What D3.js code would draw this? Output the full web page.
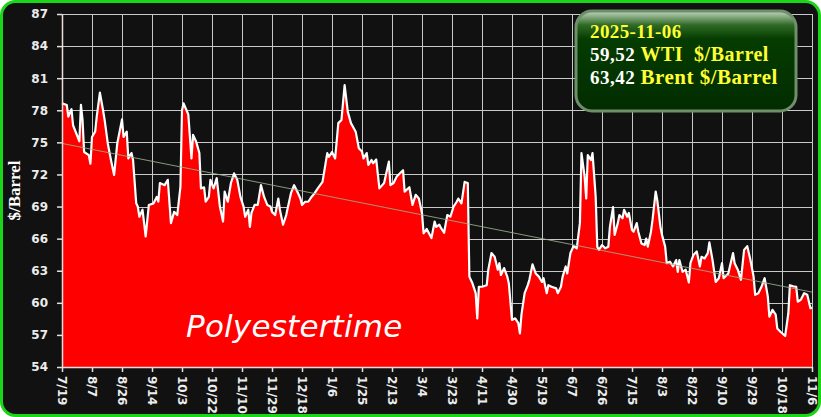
<!DOCTYPE html>
<html lang="en">
<head>
<meta charset="utf-8">
<title>WTI $/Barrel</title>
<script src="https://cdn.jsdelivr.net/npm/d3@7"></script>
<style>
  body { margin: 0; background: #fff; }
  svg { display: block; }
</style>
</head>
<body>
<script>
// WTI closing price
var dates = [
  "2024-07-19","2024-07-22","2024-07-23","2024-07-25","2024-07-26","2024-07-28","2024-07-30","2024-07-31",
  "2024-08-01","2024-08-02","2024-08-05","2024-08-06","2024-08-07","2024-08-09","2024-08-10","2024-08-12",
  "2024-08-14","2024-08-15","2024-08-17","2024-08-19","2024-08-21","2024-08-23","2024-08-26","2024-08-27",
  "2024-08-29","2024-08-30","2024-09-01","2024-09-02","2024-09-04","2024-09-05","2024-09-06","2024-09-08",
  "2024-09-10","2024-09-12","2024-09-15","2024-09-17","2024-09-18","2024-09-19","2024-09-22","2024-09-24",
  "2024-09-26","2024-09-28","2024-09-30","2024-10-02","2024-10-03","2024-10-04","2024-10-07","2024-10-09",
  "2024-10-10","2024-10-12","2024-10-14","2024-10-15","2024-10-17","2024-10-18","2024-10-20","2024-10-21",
  "2024-10-23","2024-10-25","2024-10-27","2024-10-29","2024-10-30","2024-11-01","2024-11-03","2024-11-05",
  "2024-11-07","2024-11-09","2024-11-11","2024-11-12","2024-11-14","2024-11-15","2024-11-16","2024-11-18",
  "2024-11-20","2024-11-22","2024-11-24","2024-11-26","2024-11-28","2024-11-29","2024-12-01","2024-12-03",
  "2024-12-04","2024-12-06","2024-12-08","2024-12-11","2024-12-13","2024-12-15","2024-12-17","2024-12-18",
  "2024-12-20","2024-12-22","2024-12-24","2024-12-26","2024-12-28","2024-12-31","2025-01-03","2025-01-04",
  "2025-01-06","2025-01-08","2025-01-10","2025-01-12","2025-01-14","2025-01-16","2025-01-18","2025-01-21",
  "2025-01-23","2025-01-25","2025-01-26","2025-01-28","2025-01-29","2025-01-31","2025-02-01","2025-02-03",
  "2025-02-05","2025-02-08","2025-02-11","2025-02-12","2025-02-14","2025-02-16","2025-02-20","2025-02-21",
  "2025-02-24","2025-02-26","2025-02-28","2025-03-02","2025-03-04","2025-03-05","2025-03-07","2025-03-10",
  "2025-03-12","2025-03-13","2025-03-15","2025-03-16","2025-03-18","2025-03-20","2025-03-22","2025-03-24",
  "2025-03-26","2025-03-27","2025-03-29","2025-03-31","2025-04-02","2025-04-03","2025-04-05","2025-04-07",
  "2025-04-08","2025-04-09","2025-04-11","2025-04-14","2025-04-15","2025-04-17","2025-04-19","2025-04-21",
  "2025-04-22","2025-04-23","2025-04-25","2025-04-27","2025-04-28","2025-04-30","2025-05-02","2025-05-04",
  "2025-05-05","2025-05-06","2025-05-08","2025-05-10","2025-05-11","2025-05-13","2025-05-15","2025-05-17",
  "2025-05-19","2025-05-20","2025-05-22","2025-05-23","2025-05-25","2025-05-28","2025-05-29","2025-05-31",
  "2025-06-01","2025-06-03","2025-06-04","2025-06-06","2025-06-08","2025-06-10","2025-06-12","2025-06-13",
  "2025-06-15","2025-06-16","2025-06-17","2025-06-19","2025-06-20","2025-06-22","2025-06-23","2025-06-24",
  "2025-06-26","2025-06-28","2025-06-30","2025-07-01","2025-07-03","2025-07-04","2025-07-06","2025-07-07",
  "2025-07-09","2025-07-10","2025-07-12","2025-07-13","2025-07-15","2025-07-16","2025-07-18","2025-07-19",
  "2025-07-21","2025-07-23","2025-07-24","2025-07-25","2025-07-27","2025-07-28","2025-07-30","2025-07-31",
  "2025-08-02","2025-08-03","2025-08-05","2025-08-06","2025-08-08","2025-08-10","2025-08-12","2025-08-13",
  "2025-08-14","2025-08-16","2025-08-18","2025-08-20","2025-08-21","2025-08-23","2025-08-25","2025-08-27",
  "2025-08-28","2025-08-30","2025-09-01","2025-09-02","2025-09-04","2025-09-06","2025-09-08","2025-09-10",
  "2025-09-11","2025-09-14","2025-09-15","2025-09-17","2025-09-18","2025-09-20","2025-09-22","2025-09-24",
  "2025-09-26","2025-09-28","2025-09-30","2025-10-01","2025-10-03","2025-10-05","2025-10-07","2025-10-09",
  "2025-10-10","2025-10-12","2025-10-14","2025-10-15","2025-10-17","2025-10-20","2025-10-22","2025-10-23",
  "2025-10-25","2025-10-27","2025-10-28","2025-10-30","2025-11-01","2025-11-03","2025-11-05","2025-11-06"
];
var prices = [
  78.65,78.5,77.4,78.1,76.6,75.85,75.1,78.5,
  77.1,74.1,73.8,73.0,75.5,76.0,77.4,79.65,
  78.0,77.1,74.9,73.35,71.95,74.9,77.15,75.5,
  76.0,73.5,74.0,73.35,69.3,69.0,68.05,68.7,
  66.2,69.15,69.3,69.9,69.45,71.2,71.0,71.5,
  67.45,68.5,68.2,70.85,78.0,78.65,77.6,73.5,
  75.7,75.05,74.0,70.7,70.8,69.45,69.9,71.5,
  70.7,71.65,69.0,67.6,70.4,69.45,71.2,72.1,
  71.5,69.9,69.0,68.05,68.7,67.1,68.4,69.15,
  69.15,71.0,69.9,69.15,69.0,68.5,68.2,69.75,
  68.7,67.3,68.2,70.25,71.0,70.4,69.75,69.15,
  69.45,69.45,69.9,70.25,70.7,71.3,74.0,73.65,
  74.1,73.5,76.8,77.1,80.35,77.85,76.8,76.0,
  74.45,74.15,73.5,74.0,72.9,73.35,73.05,73.4,
  70.7,71.2,73.2,71.0,71.2,71.8,72.4,70.4,
  70.8,69.15,70.1,69.75,68.4,66.5,66.9,66.05,
  67.6,67.1,67.3,67.0,66.55,68.2,68.05,69.0,
  69.45,69.75,69.3,71.3,71.2,62.45,61.8,60.9,
  58.55,61.5,61.5,61.65,63.1,64.65,64.3,63.1,
  63.7,62.6,63.25,62.45,61.8,58.4,58.55,58.1,
  57.15,58.9,60.9,61.65,62.15,63.6,62.75,62.45,
  61.95,62.3,60.9,61.65,61.5,61.35,60.9,61.5,
  62.4,63.4,62.75,64.65,65.3,65.1,67.45,74.0,
  71.8,69.75,73.8,73.35,74.0,69.9,65.25,64.95,
  65.4,65.1,65.25,67.1,68.95,66.35,67.45,68.2,
  67.9,68.7,68.05,68.4,66.8,66.65,67.45,66.65,
  65.55,65.4,66.0,65.25,66.65,67.75,70.4,69.6,
  67.1,66.35,65.25,63.7,63.85,63.4,64.0,62.9,
  64.0,62.9,63.1,61.9,63.7,64.5,64.8,63.4,
  64.3,64.15,64.65,65.65,64.0,61.95,62.3,63.7,
  62.3,62.75,63.4,64.65,63.7,63.1,62.15,64.95,
  65.3,64.0,62.45,60.75,60.9,61.5,62.3,60.6,
  58.7,59.35,58.9,57.6,57.3,56.9,59.0,61.65,
  61.55,61.5,60.1,60.3,60.9,60.75,59.5,59.52
];

// trend line, start and end value
var trendValues = [74.9, 61.0];

var yTicks = [54, 57, 60, 63, 66, 69, 72, 75, 78, 81, 84, 87];
var xTicks = [
  "2024-07-19","2024-08-07","2024-08-26","2024-09-14","2024-10-03","2024-10-22","2024-11-10",
  "2024-11-29","2024-12-18","2025-01-06","2025-01-25","2025-02-13","2025-03-04","2025-03-23",
  "2025-04-11","2025-04-30","2025-05-19","2025-06-07","2025-06-26","2025-07-15","2025-08-03",
  "2025-08-22","2025-09-10","2025-09-29","2025-10-18","2025-11-06"
];

var infoDate = "2025-11-06";
var wtiLast = "59,52";
var brentLast = "63,42";

var W = 821, H = 417;
var margin = {left: 62, right: 9, top: 14, bottom: 50};

var parse = d3.utcParse("%Y-%m-%d");
var data = dates.map(function(d, i) { return {date: parse(d), value: prices[i]}; });

var svg = d3.select("body").append("svg")
  .attr("width", W)
  .attr("height", H);

var defs = svg.append("defs");
var boxGrad = defs.append("linearGradient")
  .attr("id", "boxGrad").attr("x1", 0).attr("y1", 0).attr("x2", 0).attr("y2", 1);
boxGrad.append("stop").attr("offset", "0%").attr("stop-color", "#c4d8c0");
boxGrad.append("stop").attr("offset", "14%").attr("stop-color", "#2f6a26");
boxGrad.append("stop").attr("offset", "28%").attr("stop-color", "#053c00");
boxGrad.append("stop").attr("offset", "100%").attr("stop-color", "#022c00");

// frame
svg.append("rect")
  .attr("x", 1.5).attr("y", 1.5)
  .attr("width", W - 3).attr("height", H - 3)
  .attr("rx", 14)
  .attr("fill", "#111111")
  .attr("stroke", "#19d619")
  .attr("stroke-width", 3);

var x = d3.scaleUtc()
  .domain([parse(xTicks[0]), parse(xTicks[xTicks.length - 1])])
  .range([margin.left, W - margin.right]);

var y = d3.scaleLinear()
  .domain([54, 87])
  .range([H - margin.bottom, margin.top]);

// grid
var grid = svg.append("g").attr("stroke", "#c8c8c8").attr("stroke-width", 1);
grid.selectAll(".hg").data(yTicks).enter().append("line")
  .attr("x1", margin.left).attr("x2", W - margin.right)
  .attr("y1", function(d) { return Math.round(y(d)) + 0.5; })
  .attr("y2", function(d) { return Math.round(y(d)) + 0.5; });
grid.selectAll(".vg").data(xTicks).enter().append("line")
  .attr("y1", margin.top).attr("y2", H - margin.bottom)
  .attr("x1", function(d) { return Math.round(x(parse(d))) + 0.5; })
  .attr("x2", function(d) { return Math.round(x(parse(d))) + 0.5; });

var area = d3.area()
  .x(function(d) { return x(d.date); })
  .y0(y(54))
  .y1(function(d) { return y(d.value); });

var line = d3.line()
  .x(function(d) { return x(d.date); })
  .y(function(d) { return y(d.value); });

svg.append("path").datum(data)
  .attr("d", area)
  .attr("fill", "#ff0000");

svg.append("path").datum(data)
  .attr("d", line)
  .attr("fill", "none")
  .attr("stroke", "#ffffff")
  .attr("stroke-width", 2.2)
  .attr("stroke-linejoin", "round");

// trend
svg.append("line")
  .attr("x1", x(data[0].date)).attr("y1", y(trendValues[0]))
  .attr("x2", x(data[data.length - 1].date)).attr("y2", y(trendValues[1]))
  .attr("stroke", "#9bb08e")
  .attr("stroke-opacity", 0.85)
  .attr("stroke-width", 1);

// axes
var yAxis = svg.append("g")
  .attr("transform", "translate(" + margin.left + ",0)")
  .call(d3.axisLeft(y).tickValues(yTicks).tickSize(5).tickSizeOuter(0).tickPadding(9));

var xAxis = svg.append("g")
  .attr("transform", "translate(0," + (H - margin.bottom) + ")")
  .call(d3.axisBottom(x)
    .tickValues(xTicks.map(parse))
    .tickSize(5).tickSizeOuter(0)
    .tickFormat(d3.utcFormat("%-m/%-d")));

[yAxis, xAxis].forEach(function(g) {
  g.select(".domain").attr("stroke", "#f0dede").attr("stroke-width", 1.5);
  g.selectAll(".tick line").attr("stroke", "#e0e0e0").attr("stroke-width", 1.5);
  g.selectAll("text")
    .attr("fill", "#ececec")
    .style("font-family", "'DejaVu Sans', sans-serif")
    .style("font-weight", "bold")
    .style("font-size", "12px");
});

xAxis.selectAll("text")
  .attr("transform", "rotate(90)")
  .attr("x", 9).attr("y", 0)
  .attr("dy", "0.35em")
  .attr("text-anchor", "start");

// y label
svg.append("text")
  .attr("transform", "translate(14," + y(70.5) + ") rotate(-90)")
  .attr("text-anchor", "middle")
  .attr("dy", "0.35em")
  .attr("fill", "#ffffff")
  .style("font-family", "'Liberation Serif', serif")
  .style("font-weight", "bold")
  .style("font-size", "17px")
  .text("$/Barrel");

// watermark
svg.append("text")
  .attr("x", 186).attr("y", 337)
  .attr("fill", "#ffffff")
  .style("font-family", "'DejaVu Sans', sans-serif")
  .style("font-style", "italic")
  .style("font-size", "31px")
  .style("letter-spacing", "0.2px")
  .text("Polyestertime");

// info box
var box = svg.append("g");
box.append("rect")
  .attr("x", 576).attr("y", 11)
  .attr("width", 220).attr("height", 100)
  .attr("rx", 16)
  .attr("fill", "url(#boxGrad)")
  .attr("stroke", "#6f8f6a")
  .attr("stroke-width", 3);

var serif = "'Liberation Serif', 'Times New Roman', serif";
box.append("text")
  .attr("x", 590).attr("y", 38)
  .attr("fill", "#ffff33")
  .style("font-family", serif).style("font-weight", "bold").style("font-size", "19px")
  .style("letter-spacing", "0.4px")
  .text(infoDate);

var t1 = box.append("text")
  .attr("x", 590).attr("y", 61)
  .style("font-family", serif).style("font-weight", "bold").style("font-size", "19px")
  .style("letter-spacing", "0.5px");
t1.append("tspan").attr("fill", "#ffffff").text(wtiLast + " ");
t1.append("tspan").attr("fill", "#ffff33").style("font-size", "20px").text("WTI\u00a0 $/Barrel");

var t2 = box.append("text")
  .attr("x", 590).attr("y", 84)
  .style("font-family", serif).style("font-weight", "bold").style("font-size", "19px")
  .style("letter-spacing", "0.5px");
t2.append("tspan").attr("fill", "#ffffff").text(brentLast + " ");
t2.append("tspan").attr("fill", "#ffff33").style("font-size", "21px").text("Brent $/Barrel");
</script>
</body>
</html>
